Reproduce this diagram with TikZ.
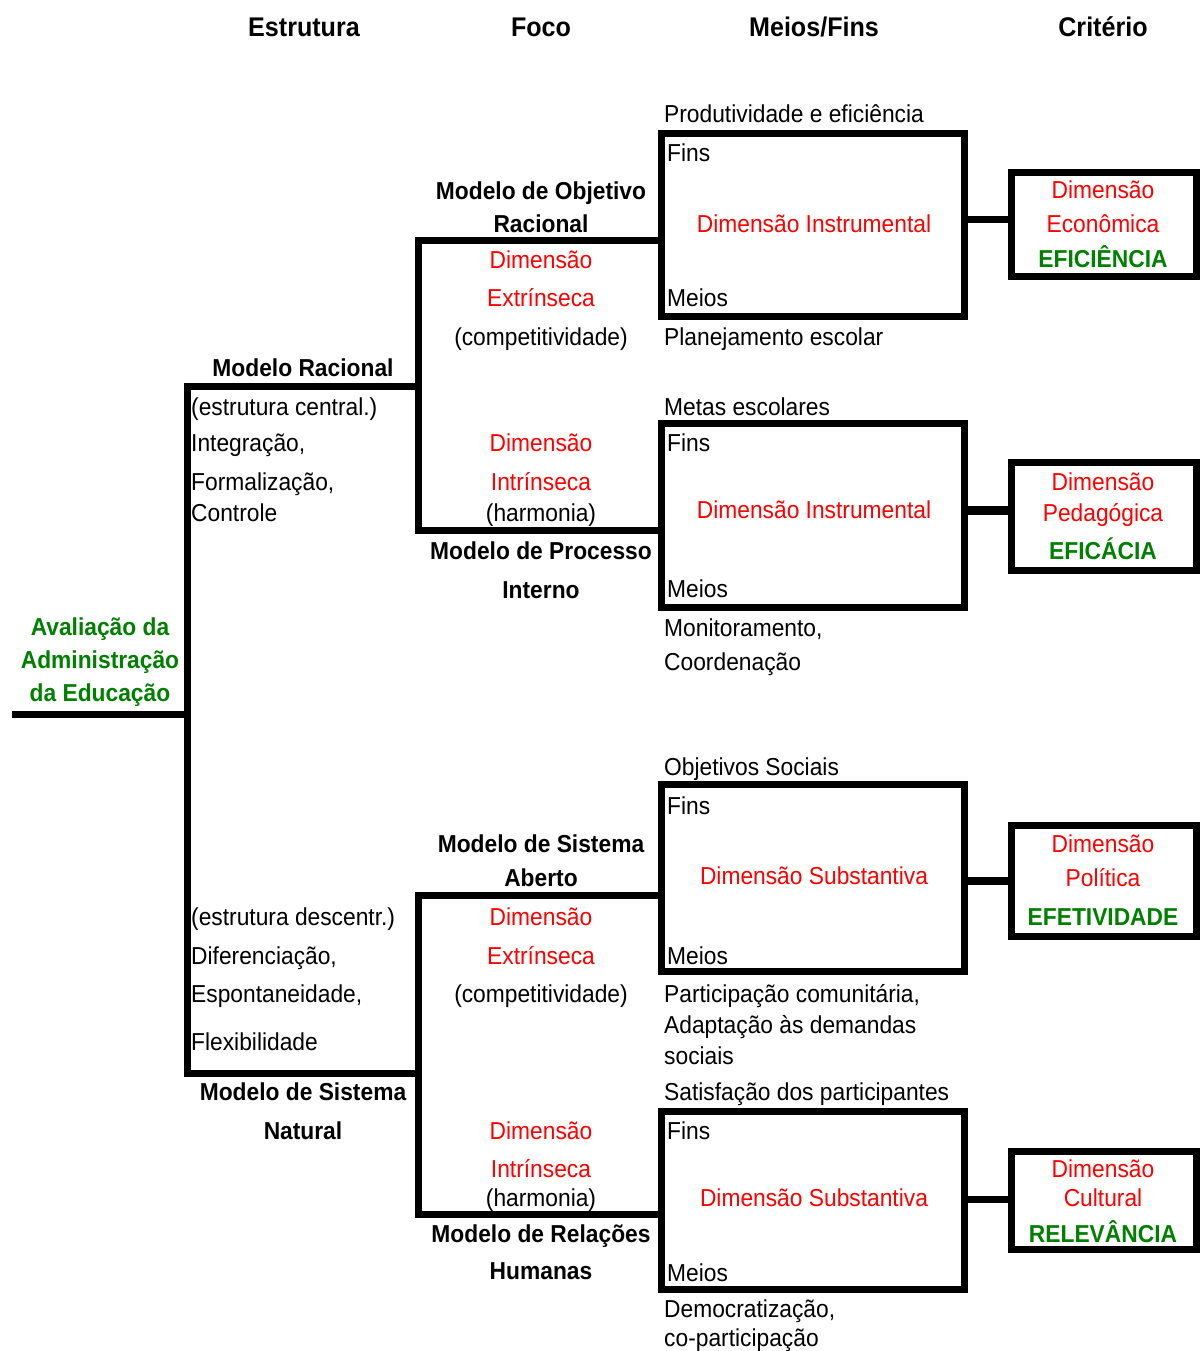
\documentclass[tikz,border=0pt]{standalone}
\usepackage{fontspec}
\setmainfont{Liberation Sans}[FakeStretch=0.93]
\usetikzlibrary{positioning}
\definecolor{dimred}{RGB}{255,0,0}
\definecolor{critgreen}{RGB}{0,128,0}

\begin{document}
\begin{tikzpicture}[
  x=1pt, y=-1pt,
  txt/.style={anchor=base, inner sep=0pt, font=\fontsize{24.5}{28}\selectfont},
  lefttxt/.style={txt, anchor=base west},
  head/.style={txt, font=\fontsize{27}{30}\selectfont\bfseries},
  model/.style={txt, font=\fontsize{24.5}{28}\selectfont\bfseries},
  dim/.style={txt, text=dimred},
  crit/.style={txt, font=\fontsize{24.5}{28}\selectfont\bfseries, text=critgreen},
  tree/.style={line width=7pt},
  link/.style={line width=7pt},
  mfbox/.style={draw, line width=7pt, minimum width=303pt, inner sep=0pt},
  critbox/.style={draw, line width=7pt, minimum width=185pt, inner sep=0pt}
]
\useasboundingbox (0,0) rectangle (1199,1351);

% column heads
\node[head] (hestr) at (304,37) {Estrutura};
\node[head] (hfoco) at (541,37) {Foco};
\node[head] (hmf) at (814,37) {Meios/Fins};
\node[head] (hcrit) at (1103,37) {Critério};

% root
\node[crit] (root1) at (100,635) {Avaliação da};
\node[crit] (root2) at (100,668) {Administração};
\node[crit] (root3) at (100,701) {da Educação};

% means/ends boxes
\node[mfbox, minimum height=182pt] (mf1) at (812.5,225) {};
\node[mfbox, minimum height=184pt] (mf2) at (812.5,515) {};
\node[mfbox, minimum height=187pt] (mf3) at (812.5,877.5) {};
\node[mfbox, minimum height=178pt] (mf4) at (812.5,1200) {};

% criterion boxes
\node[critbox, minimum height=104pt] (crit1) at (1103.5,224.5) {};
\node[critbox, minimum height=108pt] (crit2) at (1103.5,516) {};
\node[critbox, minimum height=111pt] (crit3) at (1103.5,880.5) {};
\node[critbox, minimum height=98pt] (crit4) at (1103.5,1200) {};

% tree
\coordinate (rootend) at (12,714);
\coordinate (trunk) at (187,714);
\coordinate (racj) at (418,386);
\coordinate (natj) at (418,1073);
\coordinate (objj) at (mf1.west |- 0,240);
\coordinate (procj) at (mf2.west |- 0,530);
\coordinate (abj) at (mf3.west |- 0,895);
\coordinate (relj) at (mf4.west |- 0,1214);
\draw[tree] (rootend) -- (trunk);
\draw[tree] (racj) -| (trunk) |- (natj);
\draw[tree] (objj) -| (racj) |- (procj);
\draw[tree] (abj) -| (natj) |- (relj);

\draw[link] (mf1.east |- 0,219) -- (crit1.west |- 0,219);
\draw[link, line width=9pt] (mf2.east |- 0,510) -- (crit2.west |- 0,510);
\draw[link, line width=8pt] (mf3.east |- 0,881) -- (crit3.west |- 0,881);
\draw[link] (mf4.east |- 0,1199) -- (crit4.west |- 0,1199);

% structure column
\node[model] (mrac) at (303,376) {Modelo Racional};
\node[lefttxt] (rac1) at (191,415) {(estrutura central.)};
\node[lefttxt] (rac2) at (191,451) {Integração,};
\node[lefttxt] (rac3) at (191,490) {Formalização,};
\node[lefttxt] (rac4) at (191,521) {Controle};
\node[lefttxt] (nat1) at (191,925) {(estrutura descentr.)};
\node[lefttxt] (nat2) at (191,964) {Diferenciação,};
\node[lefttxt] (nat3) at (191,1002) {Espontaneidade,};
\node[lefttxt] (nat4) at (191,1050) {Flexibilidade};
\node[model] (mnat1) at (303,1100) {Modelo de Sistema};
\node[model] (mnat2) at (303,1139) {Natural};

% focus column
\node[model] (mobj1) at (541,200) {Modelo de Objetivo};
\node[model] (mobj2) at (541,232) {Racional};
\node[dim] (ext1a) at (541,268) {Dimensão};
\node[dim] (ext1b) at (541,306) {Extrínseca};
\node[txt] (ext1c) at (541,345) {(competitividade)};
\node[dim] (int1a) at (541,451) {Dimensão};
\node[dim] (int1b) at (541,490) {Intrínseca};
\node[txt] (int1c) at (541,521) {(harmonia)};
\node[model] (mproc1) at (541,559) {Modelo de Processo};
\node[model] (mproc2) at (541,598) {Interno};

\node[model] (mab1) at (541,852) {Modelo de Sistema};
\node[model] (mab2) at (541,886) {Aberto};
\node[dim] (ext2a) at (541,925) {Dimensão};
\node[dim] (ext2b) at (541,964) {Extrínseca};
\node[txt] (ext2c) at (541,1002) {(competitividade)};
\node[dim] (int2a) at (541,1139) {Dimensão};
\node[dim] (int2b) at (541,1177) {Intrínseca};
\node[txt] (int2c) at (541,1206) {(harmonia)};
\node[model] (mrel1) at (541,1242) {Modelo de Relações};
\node[model] (mrel2) at (541,1279) {Humanas};

% means/ends texts
\node[lefttxt] (top1) at (664,123) {Produtividade e eficiência};
\node[lefttxt] (fins1) at (667,162) {Fins};
\node[dim] (inst1) at (814,232) {Dimensão Instrumental};
\node[lefttxt] (meios1) at (667,306) {Meios};
\node[lefttxt] (bot1) at (664,345) {Planejamento escolar};

\node[lefttxt] (top2) at (664,415) {Metas escolares};
\node[lefttxt] (fins2) at (667,451) {Fins};
\node[dim] (inst2) at (814,518) {Dimensão Instrumental};
\node[lefttxt] (meios2) at (667,597) {Meios};
\node[lefttxt] (bot2a) at (664,636) {Monitoramento,};
\node[lefttxt] (bot2b) at (664,670) {Coordenação};

\node[lefttxt] (top3) at (664,775) {Objetivos Sociais};
\node[lefttxt] (fins3) at (667,814) {Fins};
\node[dim] (subs3) at (814,884) {Dimensão Substantiva};
\node[lefttxt] (meios3) at (667,964) {Meios};
\node[lefttxt] (bot3a) at (664,1002) {Participação comunitária,};
\node[lefttxt] (bot3b) at (664,1033) {Adaptação às demandas};
\node[lefttxt] (bot3c) at (664,1064) {sociais};

\node[lefttxt] (top4) at (664,1100) {Satisfação dos participantes};
\node[lefttxt] (fins4) at (667,1139) {Fins};
\node[dim] (subs4) at (814,1206) {Dimensão Substantiva};
\node[lefttxt] (meios4) at (667,1281) {Meios};
\node[lefttxt] (bot4a) at (664,1317) {Democratização,};
\node[lefttxt] (bot4b) at (664,1346) {co-participação};

% criterion texts
\node[dim] (c1a) at (1103,198) {Dimensão};
\node[dim] (c1b) at (1103,232) {Econômica};
\node[crit] (c1c) at (1103,267) {EFICIÊNCIA};
\node[dim] (c2a) at (1103,490) {Dimensão};
\node[dim] (c2b) at (1103,521) {Pedagógica};
\node[crit] (c2c) at (1103,559) {EFICÁCIA};
\node[dim] (c3a) at (1103,852) {Dimensão};
\node[dim] (c3b) at (1103,886) {Política};
\node[crit] (c3c) at (1103,925) {EFETIVIDADE};
\node[dim] (c4a) at (1103,1177) {Dimensão};
\node[dim] (c4b) at (1103,1206) {Cultural};
\node[crit] (c4c) at (1103,1242) {RELEVÂNCIA};
\end{tikzpicture}
\end{document}
